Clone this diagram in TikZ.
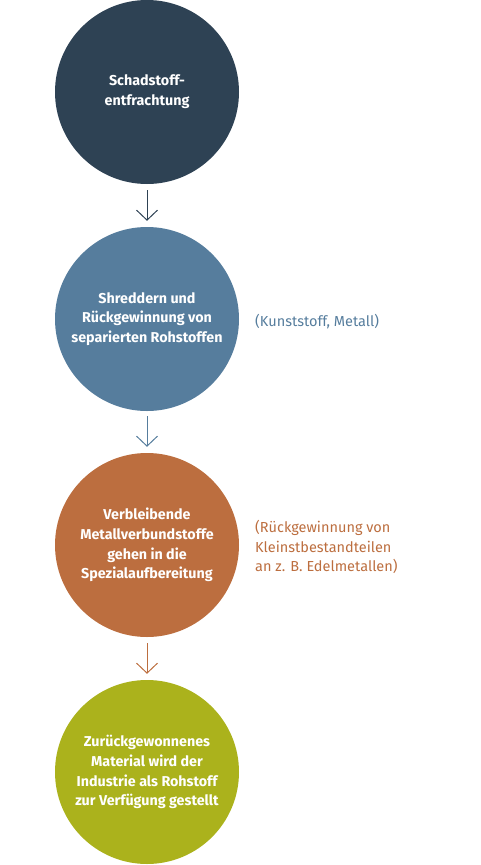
\documentclass[tikz,border=0pt]{standalone}
\usepackage{fontspec}
\setmainfont{Fira Sans}
\usetikzlibrary{arrows.meta}
\definecolor{cdark}{HTML}{2E4254}
\definecolor{cblue}{HTML}{567D9D}
\definecolor{corange}{HTML}{BC6E3F}
\definecolor{colive}{HTML}{ABB21C}
\tikzset{
  stepcircle/.style={circle, minimum size=184pt, inner sep=0pt, text=white, align=center,
     font=\fontsize{14.3}{19.8}\selectfont\bfseries},
  sidenote/.style={anchor=west, align=left, inner sep=0pt, font=\fontsize{14.5}{19.5}\selectfont},
  flowarrow/.style={-{Straight Barb[length=10pt,width=21pt]}, line width=1pt}
}
\begin{document}
\begin{tikzpicture}[x=1pt,y=1pt]
\useasboundingbox (0,0) rectangle (480,-865);
\node[stepcircle, fill=cdark] (c1) at (147,-92) {Schadstoff-\\entfrachtung};
\node[stepcircle, fill=cblue] (c2) at (147,-319) {Shreddern und\\Rückgewinnung von\\separierten Rohstoffen};
\node[stepcircle, fill=corange] (c3) at (147,-545) {Verbleibende\\Metallverbundstoffe\\gehen in die\\Spezialaufbereitung};
\node[stepcircle, fill=colive] (c4) at (147,-772) {Zurückgewonnenes\\Material wird der\\Industrie als Rohstoff\\zur Verfügung gestellt};
\node[sidenote, text=cblue] (n2) at (255,-322) {(Kunststoff, Metall)};
\node[sidenote, text=corange] (n3) at (255,-547) {(Rückgewinnung von\\Kleinstbestandteilen\\an z. B. Edelmetallen)};
\draw[flowarrow, draw=cdark] ([yshift=-6pt]c1.south) -- ([yshift=6pt]c2.north);
\draw[flowarrow, draw=cblue] ([yshift=-5pt]c2.south) -- ([yshift=6pt]c3.north);
\draw[flowarrow, draw=corange] ([yshift=-6pt]c3.south) -- ([yshift=6pt]c4.north);
\end{tikzpicture}
\end{document}
